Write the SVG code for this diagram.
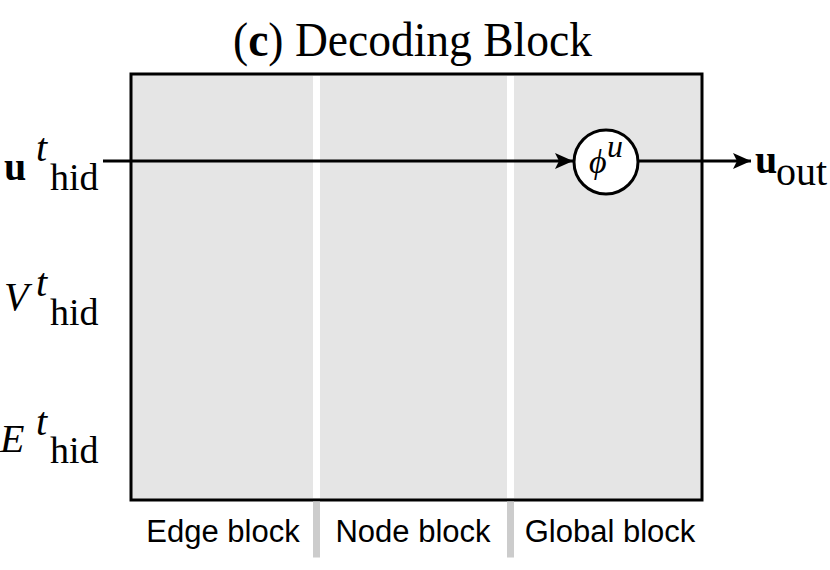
<svg xmlns="http://www.w3.org/2000/svg" width="830" height="570" viewBox="0 0 830 570">
<style>
.serif{font-family:"Liberation Serif","Times New Roman",serif;fill:#000}
.sans{font-family:"Liberation Sans",Arial,sans-serif;fill:#000;font-size:31px}
.lbl{font-size:40px}
.sub{font-size:38px}
.it{font-style:italic}
.b{font-weight:bold}
</style>
<defs>
<marker id="ah" viewBox="0 0 18 16" refX="18" refY="8" markerWidth="18" markerHeight="16" markerUnits="userSpaceOnUse" orient="auto">
<path d="M0,0 L18,8 L0,16 L4,8 Z" fill="#000"/>
</marker>
</defs>
<text class="serif" x="233" y="56" font-size="48" textLength="359" lengthAdjust="spacingAndGlyphs">(<tspan class="b">c</tspan>) Decoding Block</text>
<g id="block">
<rect x="131" y="74" width="571" height="426" fill="#e5e5e5" stroke="#000" stroke-width="3"/>
<rect x="313" y="76" width="7" height="422" fill="#fff"/>
<rect x="507" y="76" width="7" height="422" fill="#fff"/>
<rect x="313" y="501.5" width="7" height="56" fill="#ccc"/>
<rect x="507" y="501.5" width="7" height="56" fill="#ccc"/>
</g>
<g id="edge-block"><text class="sans" x="223" y="542" text-anchor="middle">Edge block</text></g>
<g id="node-block"><text class="sans" x="413" y="542" text-anchor="middle">Node block</text></g>
<g id="global-block"><text class="sans" x="610" y="542" text-anchor="middle">Global block</text></g>
<g id="u-in"><text class="serif lbl b" x="4" y="180">u</text><text class="serif lbl it" x="36" y="161">t</text><text class="serif sub" x="50" y="190">hid</text></g>
<g id="v-in"><text class="serif lbl it" x="4" y="310">V</text><text class="serif lbl it" x="36" y="296">t</text><text class="serif sub" x="50" y="325">hid</text></g>
<g id="e-in"><text class="serif lbl it" x="0" y="452">E</text><text class="serif lbl it" x="36" y="435">t</text><text class="serif sub" x="50" y="463">hid</text></g>
<g id="phi-u">
<circle cx="606" cy="162" r="32" fill="#fff" stroke="#000" stroke-width="3"/>
<text class="serif it" x="589" y="173" font-size="34">ϕ</text><text class="serif it" x="607" y="157" font-size="32">u</text>
</g>
<g id="u-out"><text class="serif lbl b" x="755" y="173">u</text><text class="serif" x="776" y="185" font-size="40">out</text></g>
<g id="connectors" stroke="#000" stroke-width="3" fill="none">
<line x1="103" y1="161" x2="573" y2="161" marker-end="url(#ah)"/>
<line x1="638" y1="161" x2="751" y2="161" marker-end="url(#ah)"/>
</g>
</svg>
